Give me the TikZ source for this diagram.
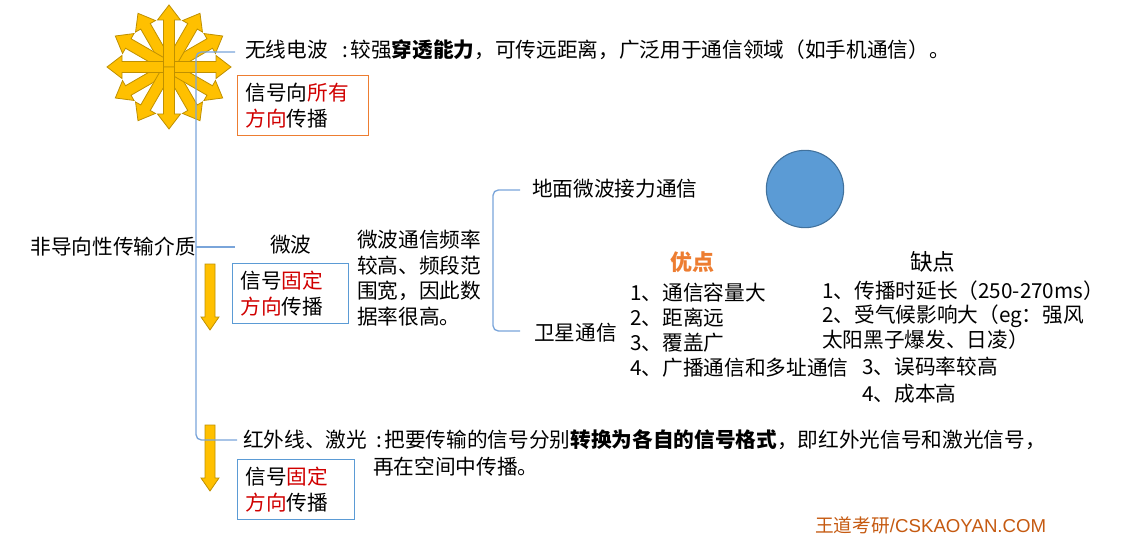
\documentclass[tikz,border=0pt]{standalone}
\usepackage{fontspec}
\setmainfont{Noto Sans CJK SC}
\newfontfamily\markfont{Liberation Sans}
\usetikzlibrary{positioning}

\definecolor{linkblue}{HTML}{7AA5DA}
\definecolor{boxorange}{HTML}{ED7D31}
\definecolor{boxblue}{HTML}{5B9BD5}
\definecolor{keyred}{HTML}{D00000}
\definecolor{rayfill}{HTML}{FFC000}
\definecolor{rayedge}{HTML}{BF9000}
\definecolor{satfill}{HTML}{5B9BD5}
\definecolor{satedge}{HTML}{41719C}
\definecolor{markbrown}{HTML}{C55A11}

\tikzset{
  txt/.style={inner sep=0pt, anchor=west, align=left,
    font=\fontsize{15.5pt}{19pt}\selectfont},
  branch/.style={draw=linkblue, line width=1pt, rounded corners=4pt},
  notebox/.style={txt, anchor=north west, draw, line width=0.8pt,
    inner xsep=6pt, minimum height=45pt, text width=#1},
  ray/.style={fill=rayfill, draw=rayedge, line width=0.6pt},
}

\begin{document}
\begin{tikzpicture}[x=0.75pt,y=-0.75pt]

    \useasboundingbox (0,0) rectangle (1137,545);

    % sunburst
    \coordinate (sun) at (169,67);
    \foreach \a in {30,60,120,150,210,240,300,330,0,180,90,270}
        \filldraw[ray, shift={(sun)}, rotate=\a]
            (0,-5.5) -- (47,-5.5) -- (47,-11.5) -- (62,0) -- (47,11.5) -- (47,5.5) -- (0,5.5) -- cycle;

    % down arrows
    \foreach \y in {264,425}
        \filldraw[ray, shift={(210,\y)}]
            (-5,0) -- (-5,53) -- (-9,53) -- (0,66) -- (9,53) -- (5,53) -- (5,0) -- cycle;

    \node[txt, anchor=east] (root) at (196,247) {非导向性传输介质};

    \node[txt] (wx) at (245,50)
        {无线电波\hspace{11pt}:\hspace{1.5pt}较强\textbf{穿透能力}，可传远距离，广泛用于通信领域（如手机通信）。};
    \node[notebox=86pt, draw=boxorange] (wxbox) at (237,75)
        {信号向\textcolor{keyred}{所有}\\\textcolor{keyred}{方向}传播};

    \node[txt] (mw) at (270,245) {微波};
    \node[notebox=75pt, draw=boxblue] (mwbox) at (232,263)
        {信号\textcolor{keyred}{固定}\\\textcolor{keyred}{方向}传播};
    \node[txt, font=\fontsize{15.5pt}{19.2pt}\selectfont] (mwdesc) at (357,278)
        {微波通信频率\\较高、频段范\\围宽，因此数\\据率很高。};

    \node[txt] (gnd) at (532,189) {地面微波接力通信};
    \node[txt] (sat) at (534,333) {卫星通信};
    \node[circle, fill=satfill, draw=satedge, line width=0.8pt,
          minimum size=58pt, inner sep=0pt] (orb) at (805,189) {};

    \node[txt, font=\fontsize{16.5pt}{19pt}\selectfont\bfseries, text=boxorange] (pros) at (670,262) {优点};
    \node[txt, font=\fontsize{17pt}{19pt}\selectfont] (cons) at (910,262) {缺点};
    \node[txt, font=\fontsize{15.5pt}{18.8pt}\selectfont] (proslist) at (630,330)
        {1、通信容量大\\2、距离远\\3、覆盖广\\4、广播通信和多址通信};
    \node[txt, font=\fontsize{15.5pt}{18.5pt}\selectfont] (conslist) at (822,315)
        {1、传播时延长（250-270ms）\\2、受气候影响大（eg：强风\\太阳黑子爆发、日凌）};
    \node[txt, font=\fontsize{15.5pt}{20pt}\selectfont] (conslist2) at (862,380)
        {3、误码率较高\\4、成本高};

    \node[txt] (ir) at (243,440)
        {红外线、激光\hspace{7pt}:\hspace{1.5pt}把要传输的信号分别\textbf{转换为各自的信号格式}，即红外光信号和激光信号，};
    \node[txt] (ir2) at (373,467) {再在空间中传播。};
    \node[notebox=76pt, draw=boxblue] (irbox) at (237,459)
        {信号\textcolor{keyred}{固定}\\\textcolor{keyred}{方向}传播};

    \node[txt, font=\fontsize{14pt}{16pt}\selectfont, text=markbrown] (mark) at (815,525)
        {王道考研{\markfont/CSKAOYAN.COM}};

    % tree lines
    \coordinate (wxin) at (235,52);
    \coordinate (mwin) at (235,247);
    \coordinate (irin) at (237,440);
    \draw[branch] (wxin) -| (root.east) |- (irin);
    \draw[branch] (root.east) -- (mwin);

    \coordinate (gndin) at (520,190);
    \coordinate (satin) at (520,331);
    \coordinate (brk) at (493,260);
    \draw[branch] (gndin) -| (brk) |- (satin);

\end{tikzpicture}
\end{document}
